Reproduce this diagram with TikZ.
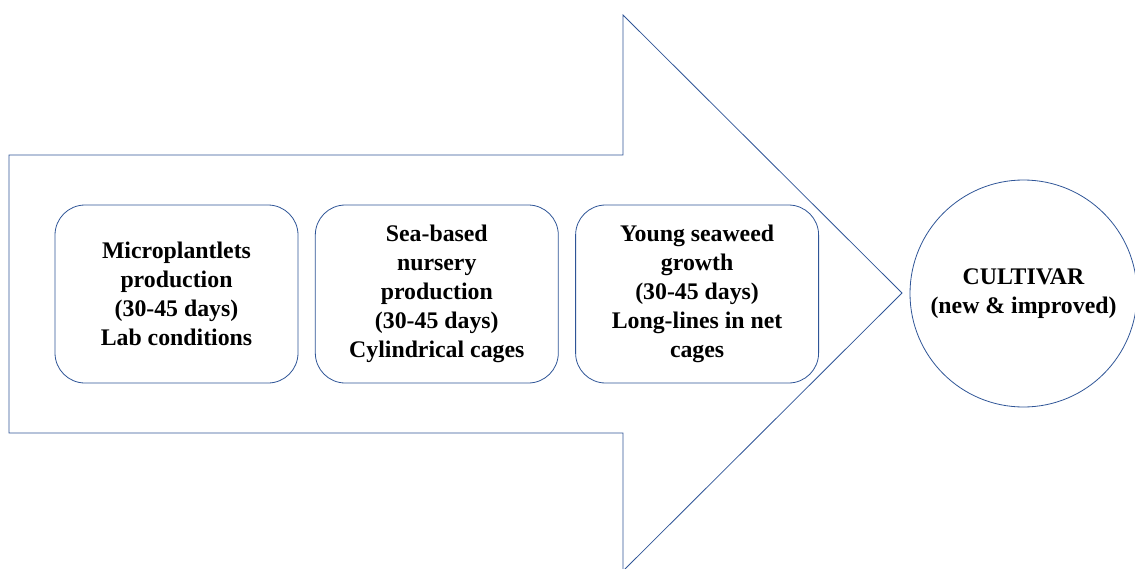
\documentclass[tikz,border=0pt]{standalone}
\usepackage{fontspec}
\setmainfont{Liberation Serif}
\usepackage{tikz}
\usetikzlibrary{positioning}

\definecolor{lineblue}{RGB}{47,85,151}

\begin{document}
\begin{tikzpicture}[x=1pt, y=-1pt, node distance=16.5pt,
    stage/.style={rectangle, draw=lineblue, thick, fill=white,
                  rounded corners=30pt, minimum width=243pt,
                  minimum height=178pt, align=center,
                  font=\bfseries\fontsize{23.8}{29}\selectfont},
    result/.style={circle, draw=lineblue, thick, fill=white,
                   minimum size=227pt, inner sep=0pt, align=center,
                   font=\bfseries\fontsize{23.8}{29}\selectfont},
    flow/.style={draw=lineblue, thick, line join=miter}]

    \useasboundingbox (0,0) rectangle (1135,568);
    \clip (0,0) rectangle (1135,568);

    % big block arrow behind the stages
    \draw[flow] (9,155) -- (623,155) -- (623,15) -- (902,293)
        -- (623,571) -- (623,433) -- (9,433) -- cycle;

    \node[stage] at (176.5,294) (micro) {Microplantlets\\ production\\ (30-45 days)\\ Lab conditions};

    \node[stage, right=of micro] (nursery) {Sea-based\\ nursery\\ production\\ (30-45 days)\\ Cylindrical cages};

    \node[stage, right=of nursery] (growth) {Young seaweed\\ growth\\ (30-45 days)\\ Long-lines in net\\ cages};

    \node[result] at (1023.5,293.5) (cultivar) {CULTIVAR\\ (new \& improved)};

\end{tikzpicture}
\end{document}
